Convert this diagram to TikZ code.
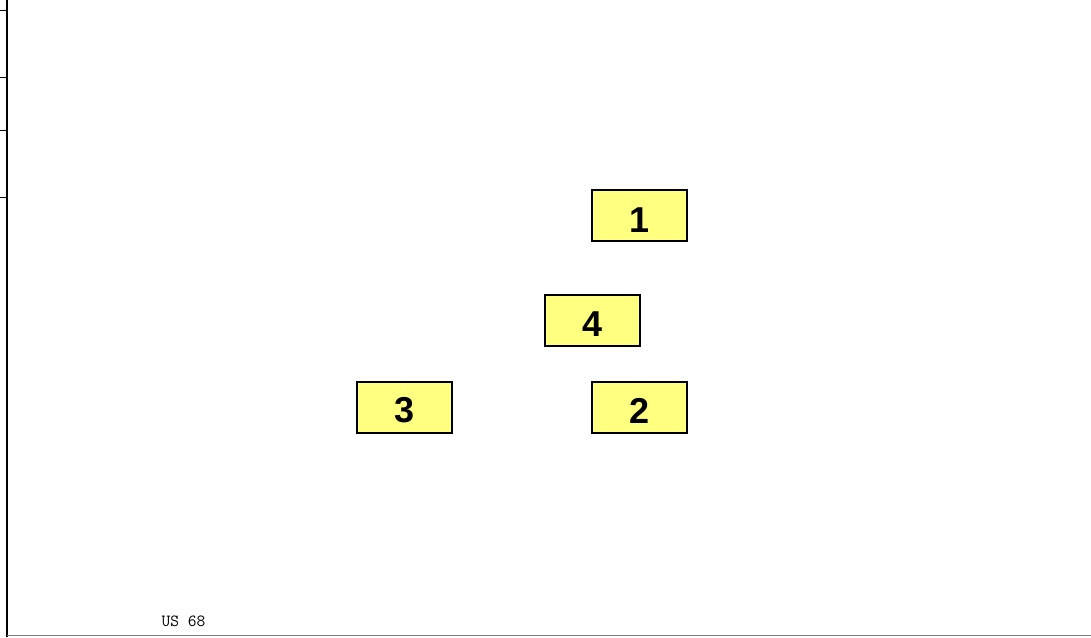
\documentclass[tikz,border=0pt]{standalone}
\usepackage{fontspec}
\setmainfont{Liberation Sans}
\usepackage{xcolor}
\definecolor{boxgelb}{HTML}{FFFF80}

\begin{document}
\begin{tikzpicture}[x=1pt,y=-1pt,kasten/.style={draw=black,line width=2pt,fill=boxgelb,minimum width=95pt,minimum height=51pt,inner sep=0pt},
  ziffer/.style={font=\fontsize{36}{36}\selectfont\bfseries,inner sep=0pt}]
\useasboundingbox (0,0) rectangle (1091,637);
\fill[white] (0,0) rectangle (1091,637);
\draw [line width=1.5pt] (7,0) -- (7,637);
\draw [line width=1pt] (0,10) -- (7,10);
\draw [line width=1pt] (0,77) -- (7,77);
\draw [line width=1pt] (0,130) -- (7,130);
\draw [line width=1pt] (0,197) -- (7,197);
\draw [gray,line width=1.5pt] (7,635.5) -- (1091,635.5);
\node  [kasten] (k1) at (639.5,215.5){};
\node  [kasten] (k4) at (592.5,320){};
\node  [kasten] (k3) at (404.5,407.5){};
\node  [kasten] (k2) at (639.5,407.5){};
\node  [ziffer] (z1) at ([yshift=-5pt]k1.center){1};
\node  [ziffer] (z4) at ([yshift=-4pt]k4.center){4};
\node  [ziffer] (z3) at ([yshift=-3pt]k3.center){3};
\node  [ziffer] (z2) at ([yshift=-3pt]k2.center){2};
\node  [right,font=\ttfamily\fontsize{17}{17}\selectfont] (us) at (158,621){US 68};
\end{tikzpicture}
\end{document}
